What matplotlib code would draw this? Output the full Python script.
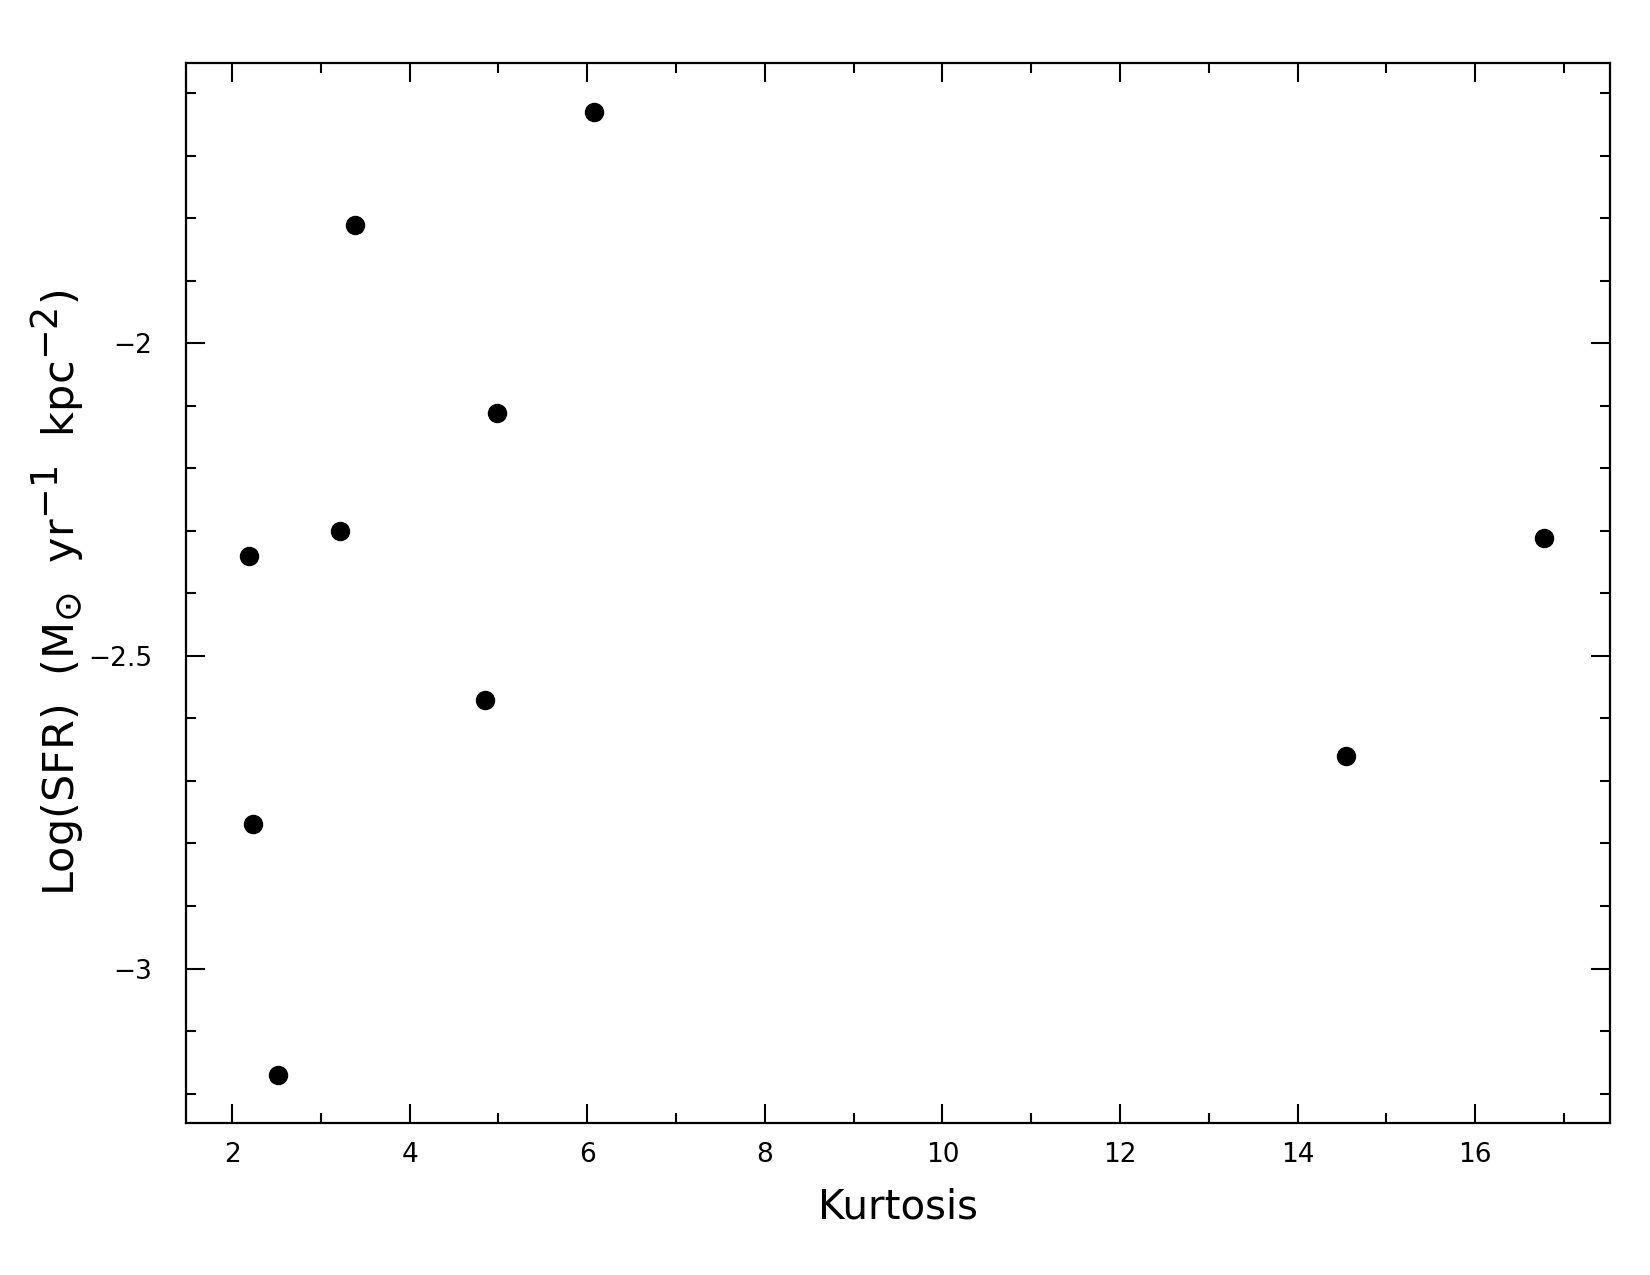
import numpy as np
import matplotlib.pyplot as plt
import matplotlib._mathtext as mt
from matplotlib.ticker import MultipleLocator

plt.rcParams['font.family'] = ['DejaVu Sans']
plt.rcParams['mathtext.fontset'] = 'dejavusans'
# superscripts in the reference are nearly full size
mt.SHRINK_FACTOR = 0.85

# values
kurtosis = [6.08, 3.38, 4.98, 3.22, 2.19, 16.78, 4.85, 14.55, 2.24, 2.52]
log_sfr = [-1.631, -1.811, -2.111, -2.301, -2.340, -2.311, -2.571, -2.660, -2.769, -3.170]

fig = plt.figure(figsize=(16.5, 12.75), dpi=100)
ax = fig.add_axes([0.1127, 0.1192, 0.8631, 0.8314])

ax.plot(kurtosis, log_sfr, 'o', color='black', markersize=13)

ax.set_xlim(1.48, 17.52)
ax.set_ylim(-3.247, -1.552)
ax.xaxis.set_major_locator(MultipleLocator(2))
ax.xaxis.set_minor_locator(MultipleLocator(1))
ax.yaxis.set_major_locator(MultipleLocator(0.5))
ax.yaxis.set_minor_locator(MultipleLocator(0.1))
ax.yaxis.set_major_formatter(plt.FuncFormatter(lambda v, p: ('%g' % v).replace('-', '\u2212')))

ax.tick_params(which='both', direction='in', top=True, right=True, width=1.5)
ax.tick_params(which='major', length=14, labelsize=19)
ax.tick_params(axis='x', which='major', pad=14)
ax.tick_params(axis='y', which='major', pad=24)
ax.tick_params(which='minor', length=7)
for s in ax.spines.values():
    s.set_linewidth(1.6)

ax.set_xlabel('Kurtosis', fontsize=29, labelpad=14)
ax.set_ylabel(r'Log(SFR)  (M$_{\odot}$  yr$^{-1}$  kpc$^{-2}$)', fontsize=31, labelpad=2)

fig.savefig('out.png', dpi=100)
